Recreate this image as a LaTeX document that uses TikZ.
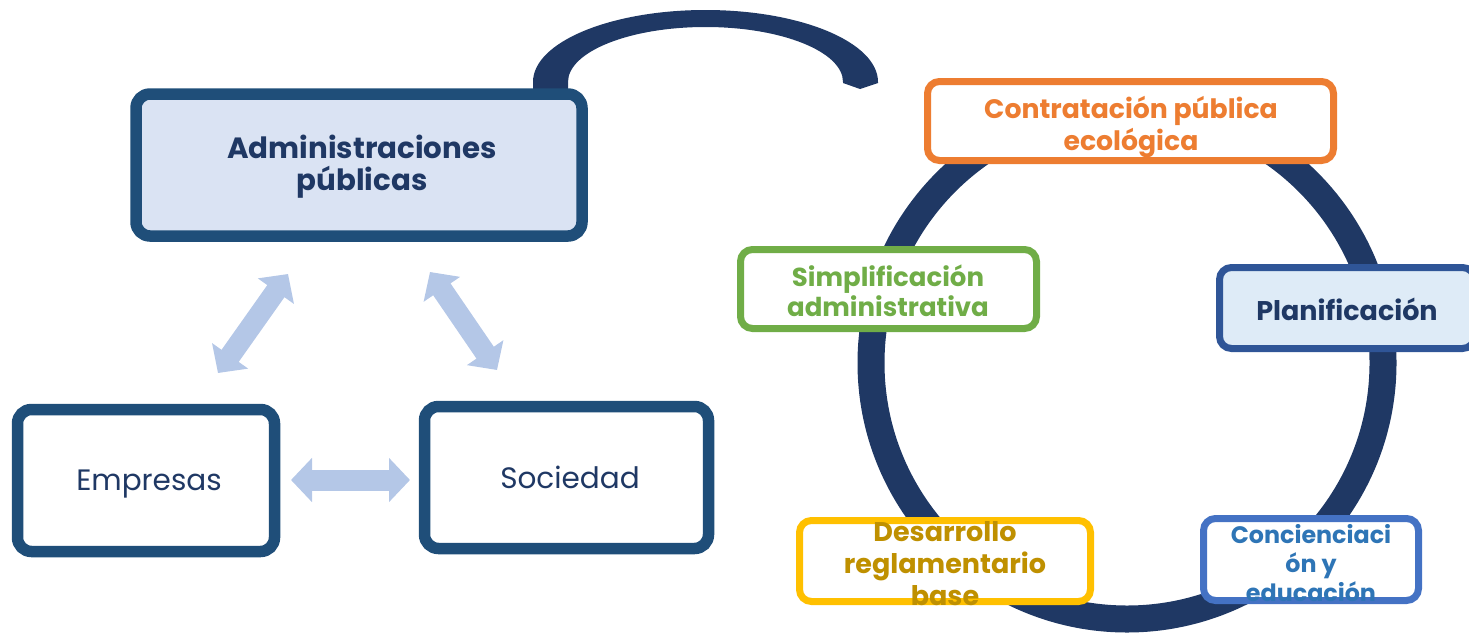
\documentclass[tikz,border=0pt]{standalone}
\usepackage{fontspec}
\setmainfont{Poppins}
\usetikzlibrary{arrows.meta}
\definecolor{navy}{HTML}{1F3864}
\definecolor{boxblue}{HTML}{1F4E79}
\definecolor{lightfill}{HTML}{DAE3F3}
\definecolor{arrowblue}{HTML}{B4C7E7}
\definecolor{orangec}{HTML}{ED7D31}
\definecolor{greenc}{HTML}{70AD47}
\definecolor{goldc}{HTML}{FFC000}
\definecolor{goldtext}{HTML}{BF9000}
\definecolor{planborder}{HTML}{2F5597}
\definecolor{planfill}{HTML}{DEEBF7}
\definecolor{concborder}{HTML}{4472C4}
\definecolor{conctext}{HTML}{2E75B6}
\tikzset{
  bigbox/.style={draw=boxblue, line width=11.5pt, rounded corners=14pt, fill=white, inner sep=0pt},
  smallbox/.style={line width=7pt, rounded corners=12pt, fill=white, inner sep=0pt},
  boldtext/.style={font=\fontsize{26.5}{32}\selectfont\bfseries, align=center, inner sep=0pt},
  regtext/.style={font=\fontsize{29.5}{32}\selectfont, text=navy, align=center, inner sep=0pt},
  dblarrow/.style={draw=arrowblue, line width=21pt, >={Triangle[width=43pt,length=21pt]}, <->}
}
\begin{document}
\begin{tikzpicture}[x=1pt,y=-1pt]
\useasboundingbox (0,0) rectangle (1469,635);
% top arc
\fill[navy] (533,95) -- (533,82) arc[start angle=180,end angle=360,x radius=172.5,y radius=72]
  -- (878,83) -- (860,89) -- (843,83) -- (843,82)
  arc[start angle=0,end angle=-180,x radius=137.5,y radius=55] -- (568,95) -- cycle;
% ring
\coordinate (ringc) at (1127,363);
\draw[navy, line width=27pt] (ringc) circle[radius=256];
% left boxes
\node[bigbox, fill=lightfill, minimum width=446pt, minimum height=142pt] (admin) at (359,165) {};
\node[boldtext, text=navy, font=\fontsize{29.3}{32}\selectfont\bfseries] (adminT) at (362,167) {Administraciones\\públicas};
\node[bigbox, minimum width=257pt, minimum height=142pt] (emp) at (146,480.5) {};
\node[regtext] (empT) at (149,484) {Empresas};
\node[bigbox, minimum width=284pt, minimum height=142pt] (soc) at (566.5,477.5) {};
\node[regtext] (socT) at (570,477) {Sociedad};
% arrows
\coordinate (a1s) at (218,373); \coordinate (a1e) at (288,274);
\coordinate (a2s) at (430,272); \coordinate (a2e) at (497,370);
\coordinate (a3s) at (291,480); \coordinate (a3e) at (410,480);
\draw[dblarrow] (a1s) -- (a1e);
\draw[dblarrow] (a2s) -- (a2e);
\draw[dblarrow] (a3s) -- (a3e);
% right boxes
\node[smallbox, draw=orangec, minimum width=406pt, minimum height=79pt] (ctr) at (1130.5,121) {};
\node[boldtext, text=orangec, font=\fontsize{26.7}{32}\selectfont\bfseries] (ctrT) at (1131,127) {Contratación pública\\ecológica};
\node[smallbox, draw=greenc, minimum width=296pt, minimum height=79pt] (simp) at (888.5,289) {};
\node[boldtext, text=greenc, font=\fontsize{26}{30}\selectfont\bfseries] (simpT) at (888,291) {Simplificación\\administrativa};
\node[smallbox, draw=planborder, fill=planfill, minimum width=255pt, minimum height=81pt] (plan) at (1347,308) {};
\node[boldtext, text=navy, font=\fontsize{27}{32}\selectfont\bfseries] (planT) at (1347,309) {Planificación};
\node[smallbox, draw=goldc, minimum width=291pt, minimum height=81pt] (des) at (945,561) {};
\node[boldtext, text=goldtext, font=\fontsize{27}{32}\selectfont\bfseries] (desT) at (945,564) {Desarrollo\\reglamentario\\base};
\node[smallbox, draw=concborder, minimum width=215pt, minimum height=82pt] (conc) at (1311,559.5) {};
\node[boldtext, text=conctext, font=\fontsize{23.8}{29}\selectfont\bfseries] (concT) at (1311,563) {Concienciaci\\ón y\\educación};
\end{tikzpicture}
\end{document}
